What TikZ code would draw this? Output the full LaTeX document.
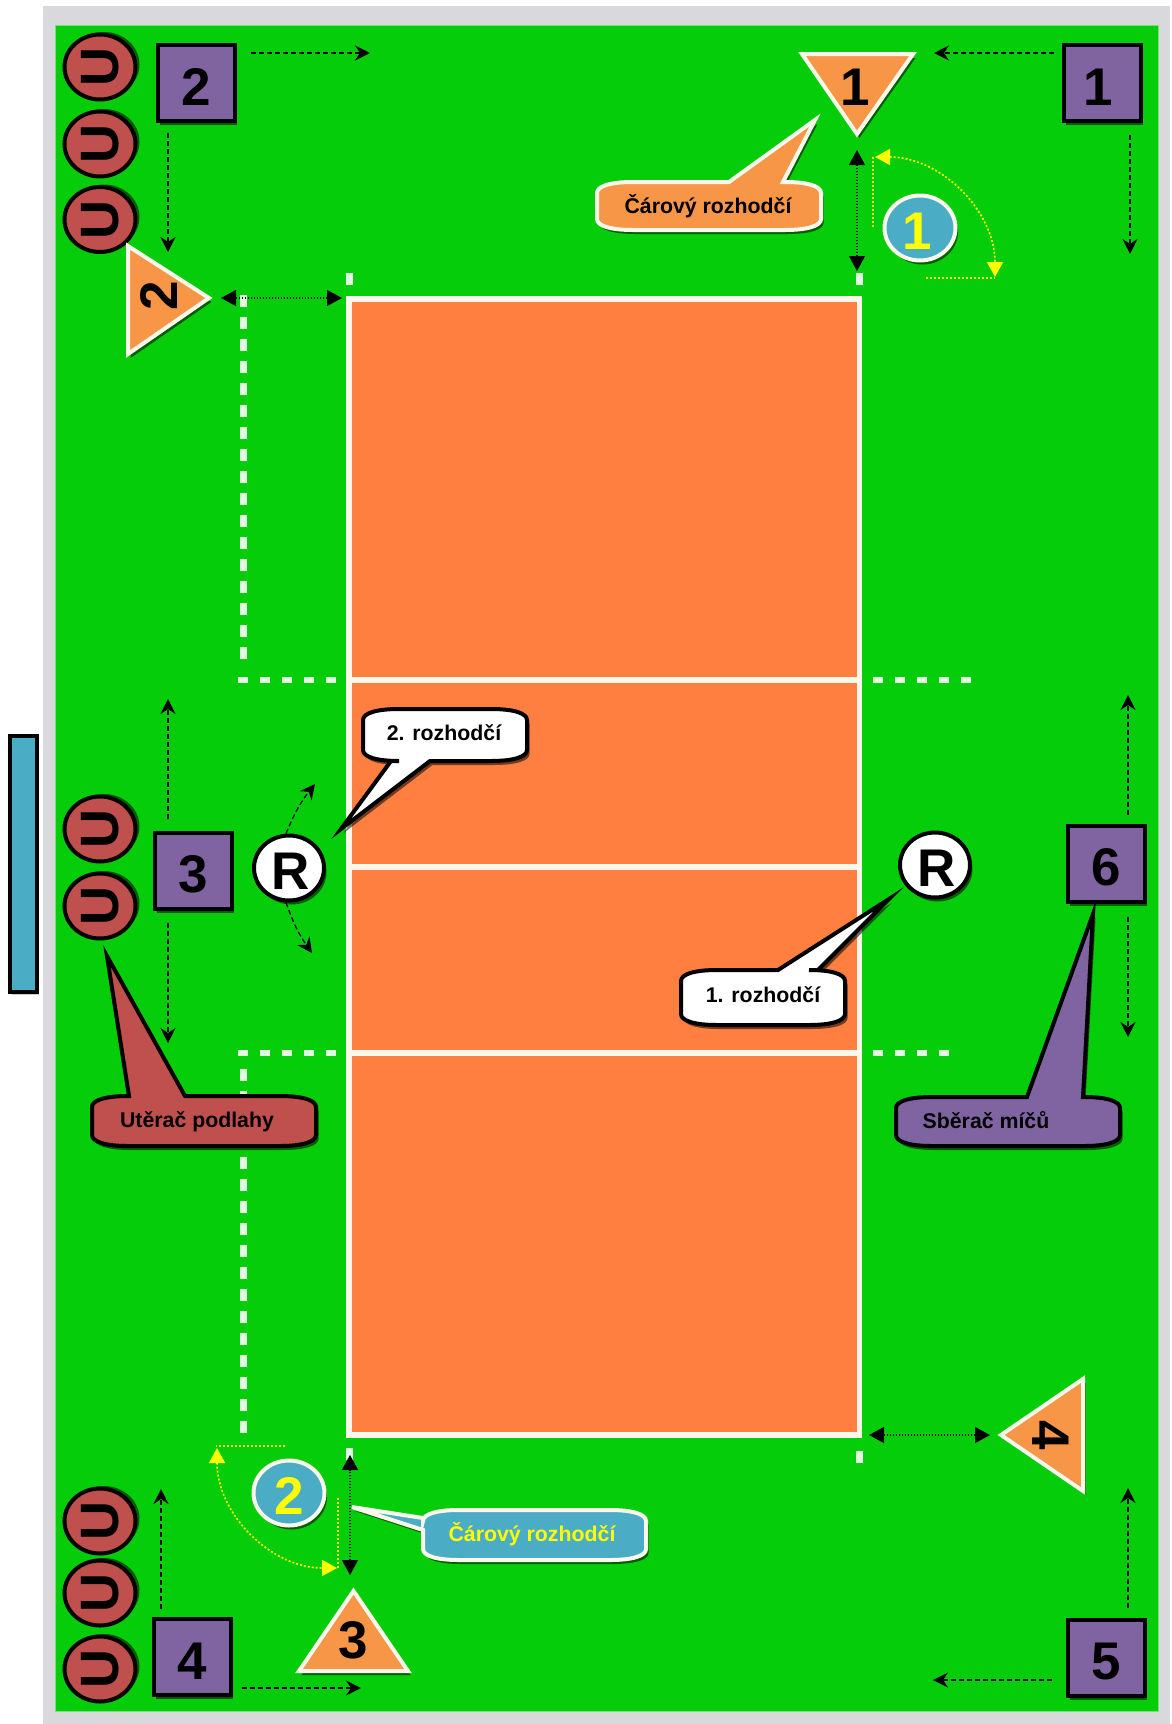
\documentclass[tikz,border=0pt]{standalone}
\usepackage{fontspec}
\setmainfont{Liberation Sans}
\usepackage{xcolor}
\usepackage{tikz}
\usetikzlibrary{arrows.meta,shadows,shapes.geometric}
\definecolor{framegrey}{RGB}{217,216,220}
\definecolor{floorgreen}{RGB}{5,205,10}
\definecolor{flooredge}{RGB}{120,225,120}
\definecolor{courtorange}{RGB}{255,127,64}
\definecolor{linecream}{RGB}{250,248,235}
\definecolor{dashwhite}{RGB}{225,250,225}
\definecolor{boxpurple}{RGB}{128,100,162}
\definecolor{softorange}{RGB}{247,150,70}
\definecolor{softred}{RGB}{192,80,77}
\definecolor{softblue}{RGB}{75,172,198}
\definecolor{signyellow}{RGB}{255,255,0}
\tikzset{
  cast/.style={drop shadow={shadow xshift=2.5pt,shadow yshift=-4pt,fill=black,opacity=.55}},
  playerbox/.style={rectangle,draw=black,line width=4pt,fill=boxpurple,cast,text height=44pt,
    minimum width=77pt,minimum height=76pt,inner sep=0pt,outer sep=0pt,font=\fontsize{53}{53}\selectfont\bfseries},
  wiper/.style={ellipse,draw=black,line width=4pt,fill=softred,
    drop shadow={shadow xshift=4pt,shadow yshift=2.5pt,fill=black,opacity=.55},
    minimum width=65pt,minimum height=71pt,inner sep=0pt,font=\fontsize{54}{54}\selectfont\bfseries},
  referee/.style={ellipse,draw=black,line width=4pt,fill=white,cast,text height=42pt,
    minimum width=70pt,minimum height=65pt,inner sep=0pt,font=\fontsize{53}{53}\selectfont\bfseries},
  liner/.style={ellipse,draw=linecream,line width=4pt,fill=softblue,cast,text=signyellow,text height=43pt,
    minimum width=71pt,minimum height=65pt,inner sep=0pt,font=\fontsize{53}{53}\selectfont\bfseries},
  flag/.style={draw=linecream,line width=4pt,fill=softorange,cast,line join=miter},
  digit/.style={inner sep=0pt,font=\fontsize{53}{53}\selectfont\bfseries},
  tag/.style={inner sep=0pt,font=\fontsize{21.3}{22}\selectfont\bfseries},
  moveflow/.style={-{Stealth[length=15pt,width=15pt,inset=5pt]},line width=1.3pt,dash pattern=on 5pt off 3pt},
  reachflow/.style={{Triangle[length=15pt,width=16pt]}-{Triangle[length=15pt,width=16pt]},
    line width=1.3pt,dash pattern=on 1.5pt off 1.5pt},
  sweepflow/.style={{Triangle[length=15pt,width=16pt]}-{Triangle[length=15pt,width=16pt]},
    draw=signyellow,fill=none,line width=1.6pt,dash pattern=on 2pt off 2pt},
  sweepline/.style={draw=signyellow,line width=1.6pt,dash pattern=on 2pt off 2pt},
  courtline/.style={draw=linecream,line width=5.5pt},
  sidedash/.style={draw=dashwhite,line width=7pt,dash pattern=on 12pt off 10pt},
  enddash/.style={draw=dashwhite,line width=6pt,dash pattern=on 10pt off 12pt},
  postdash/.style={draw=dashwhite,line width=7pt}
}
\newcommand{\bubble}[8]{\path[#1] (#2,#3+11) .. controls (#2,#3+4) and (#2+14,#3) .. (#2+36,#3) #6
  -- (#4-36,#3) .. controls (#4-14,#3) and (#4,#3+4) .. (#4,#3+11)
  -- (#4,#5-11) .. controls (#4,#5-4) and (#4-14,#5) .. (#4-36,#5) #7
  -- (#2+36,#5) .. controls (#2+14,#5) and (#2,#5-4) .. (#2,#5-11) #8 -- cycle;}
\begin{document}
\begin{tikzpicture}[x=1pt,y=-1pt]
  \useasboundingbox (0,0) rectangle (1171,1724);
  \fill[framegrey] (43,6) rectangle (1170,1724);
  \path[fill=floorgreen,draw=flooredge,line width=1pt] (55,25) rectangle (1158,1711);

  \draw[sidedash] (243,295) -- (243,668);
  \draw[sidedash] (243,1069) -- (243,1439);
  \draw[enddash] (238,680) -- (345,680);
  \draw[enddash] (238,1053) -- (345,1053);
  \draw[enddash] (873,680) -- (972,680);
  \draw[enddash] (873,1053) -- (950,1053);
  \draw[postdash] (349,273) -- (349,285);
  \draw[postdash] (859,273) -- (859,285);
  \draw[postdash] (349,1448) -- (349,1460);
  \draw[postdash] (859,1451) -- (859,1463);
  \draw[courtline,fill=courtorange] (349,299) rectangle (859.5,1435);
  \draw[courtline] (349,680) -- (859.5,680);
  \draw[courtline] (349,867) -- (859.5,867);
  \draw[courtline] (349,1053) -- (859.5,1053);

  \path[fill=softblue,draw=black,line width=3.5pt,drop shadow={shadow xshift=2pt,shadow yshift=-3pt,fill=black,opacity=.2}]
    (10,736) rectangle (37,992);

  \node[wiper,rotate=90] (wipera) at (100,67) {U};
  \node[wiper,rotate=90] (wiperb) at (100,144) {U};
  \node[wiper,rotate=90] (wiperc) at (100,219.5) {U};
  \node[wiper,rotate=90] (wiperd) at (100,829) {U};
  \node[wiper,rotate=90] (wipere) at (100,906) {U};
  \node[wiper,rotate=90] (wiperf) at (100,1521) {U};
  \node[wiper,rotate=90] (wiperg) at (100,1593) {U};
  \node[wiper,rotate=90] (wiperh) at (100,1669) {U};

  \node[playerbox] (boxtwo) at (196,83) {2};
  \node[playerbox] (boxone) at (1102,83) {\kern-7pt 1};
  \node[playerbox] (boxthree) at (193,871) {3};
  \node[playerbox] (boxsix) at (1106,864) {6};
  \node[playerbox] (boxfour) at (192,1657) {4};
  \node[playerbox] (boxfive) at (1106,1658) {5};

  \path[flag] (802,54) -- (913,54) -- (857,134) -- cycle;
  \path[flag] (128,246) -- (128,354) -- (209,298) -- cycle;
  \path[flag] (353.5,1591) -- (299,1671) -- (408,1671) -- cycle;
  \path[flag] (1083,1379) -- (1083,1491) -- (1001,1435) -- cycle;
  \node[digit] (flagone) at (855,87) {1};
  \node[digit,rotate=90] (flagtwo) at (159,296) {2};
  \node[digit] (flagthree) at (353,1640) {3};
  \node[digit,rotate=-90] (flagfour) at (1051,1435) {4};

  \node[referee] (refsecond) at (289,868) {\kern4pt R};
  \node[referee] (reffirst) at (935,865) {\kern4pt R};
  \node[liner] (linerone) at (920,228) {\kern-6pt 1};
  \node[liner] (linertwo) at (289,1493) {2};

  \coordinate (aimtwoa) at (370,53);
  \coordinate (aimtwob) at (168,252);
  \coordinate (aimonea) at (934,53);
  \coordinate (aimoneb) at (1130,254);
  \coordinate (aimthreea) at (168,699);
  \coordinate (aimthreeb) at (168,1043);
  \coordinate (aimsixa) at (1128,695);
  \coordinate (aimsixb) at (1128,1037);
  \coordinate (aimfoura) at (161,1489);
  \coordinate (aimfourb) at (361,1688);
  \coordinate (aimfivea) at (1128,1488);
  \coordinate (aimfiveb) at (933,1680);
  \draw[moveflow,shorten <=16pt] (boxtwo.east |- aimtwoa) -- (aimtwoa);
  \draw[moveflow,shorten <=12pt] (boxtwo.south -| aimtwob) -- (aimtwob);
  \draw[moveflow,shorten <=10pt] (boxone.west |- aimonea) -- (aimonea);
  \draw[moveflow,shorten <=14pt] (boxone.south -| aimoneb) -- (aimoneb);
  \draw[moveflow,shorten <=14pt] (boxthree.north -| aimthreea) -- (aimthreea);
  \draw[moveflow,shorten <=14pt] (boxthree.south -| aimthreeb) -- (aimthreeb);
  \draw[moveflow,shorten <=11pt] (boxsix.north -| aimsixa) -- (aimsixa);
  \draw[moveflow,shorten <=15pt] (boxsix.south -| aimsixb) -- (aimsixb);
  \draw[moveflow,shorten <=10pt] (boxfour.north -| aimfoura) -- (aimfoura);
  \draw[moveflow,shorten <=11pt] (boxfour.east |- aimfourb) -- (aimfourb);
  \draw[moveflow,shorten <=12pt] (boxfive.north -| aimfivea) -- (aimfivea);
  \draw[moveflow,shorten <=16pt] (boxfive.west |- aimfiveb) -- (aimfiveb);
  \coordinate (turnup) at (315,784);
  \coordinate (turndown) at (312,953);
  \draw[moveflow] (refsecond.95) to[bend left=8] (turnup);
  \draw[moveflow] (refsecond.265) to[bend right=8] (turndown);

  \coordinate (nearone) at (857,150);
  \coordinate (postone) at (857,271);
  \coordinate (nearthree) at (350,1575);
  \coordinate (postthree) at (350,1455);
  \coordinate (neartwo) at (342,298);
  \coordinate (fartwo) at (221,298);
  \coordinate (nearfour) at (990,1435);
  \coordinate (farfour) at (869,1435);
  \draw[reachflow] (nearone) -- (postone);
  \draw[reachflow] (nearthree) -- (postthree);
  \draw[reachflow] (fartwo) -- (neartwo);
  \draw[reachflow] (farfour) -- (nearfour);

  \coordinate (sweeponea) at (875,157);
  \coordinate (sweeponeb) at (995,277);
  \coordinate (sweeptwoa) at (217,1448);
  \coordinate (sweeptwob) at (337,1568);
  \draw[sweepflow] (sweeponea) .. controls (941,157) and (995,211) .. (sweeponeb);
  \draw[sweepflow] (sweeptwoa) .. controls (217,1514) and (271,1568) .. (sweeptwob);
  \coordinate (rayonea) at (873,227);
  \coordinate (rayoneb) at (926,278);
  \coordinate (raytwoa) at (285,1446);
  \coordinate (raytwob) at (338,1498);
  \draw[sweepline] (rayonea) -- (873,157);
  \draw[sweepline] (rayoneb) -- (995,278);
  \draw[sweepline] (raytwoa) -- (216,1446);
  \draw[sweepline] (raytwob) -- (338,1568);

  \bubble{draw=linecream,line width=4pt,fill=softorange,cast}{597}{182}{821}{230}{-- (729,182) -- (815,120) -- (783,182)}{}{}
  \bubble{draw=black,line width=4pt,fill=white,cast}{363}{709}{527}{761}{}{-- (430,761) -- (341,829) -- (391,761)}{}
  \bubble{draw=black,line width=4pt,fill=white,cast}{681}{970}{845}{1025}{-- (778,970) -- (889,899) -- (818,970)}{}{}
  \bubble{draw=black,line width=4pt,fill=softred,cast}{92}{1096}{316}{1146}{-- (129,1096) -- (107,956) -- (185,1096)}{}{}
  \bubble{draw=black,line width=4pt,fill=boxpurple,cast}{896}{1097}{1120}{1146}{-- (1027,1097) -- (1093,914) -- (1083,1097)}{}{}
  \bubble{draw=linecream,line width=4pt,fill=softblue,cast}{423}{1510}{646}{1560}{}{}{-- (423,1530) -- (352,1507) -- (423,1518)}

  \node[tag] (tagline) at (708,206) {Čárový rozhodčí};
  \node[tag] (tagsecond) at (444,733) {2. rozhodčí};
  \node[tag] (tagfirst) at (763,995) {1. rozhodčí};
  \node[tag] (tagwiper) at (197,1122) {Utěrač podlahy};
  \node[tag] (tagball) at (986,1120) {Sběrač míčů};
  \node[tag,text=signyellow] (tagliner) at (532,1534) {Čárový rozhodčí};
\end{tikzpicture}
\end{document}
